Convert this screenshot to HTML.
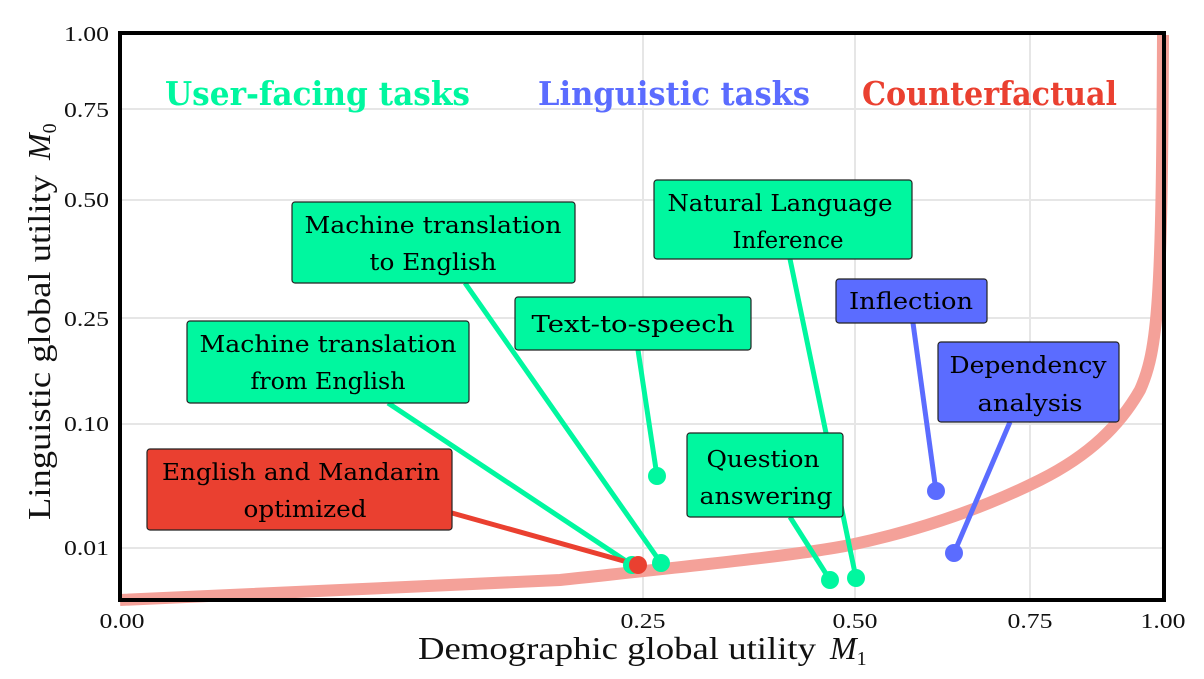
<!DOCTYPE html>
<html><head><meta charset="utf-8"><style>
html,body{margin:0;padding:0;background:#fff;width:1204px;height:679px;overflow:hidden}
svg{display:block}
.t{font-family:"DejaVu Serif","Liberation Serif",serif}
.tick{font-family:"Liberation Serif",serif;font-size:21px;fill:#111}
.lab{font-size:23px;fill:#000}
</style></head><body>
<svg width="1204" height="679" viewBox="0 0 1204 679" xmlns="http://www.w3.org/2000/svg">
<g stroke="#e6e6e6" stroke-width="2">
<line x1="122" y1="109" x2="1162" y2="109"/>
<line x1="122" y1="200" x2="1162" y2="200"/>
<line x1="122" y1="318" x2="1162" y2="318"/>
<line x1="122" y1="424" x2="1162" y2="424"/>
<line x1="122" y1="548" x2="1162" y2="548"/>
<line x1="643" y1="35" x2="643" y2="598"/>
<line x1="855" y1="35" x2="855" y2="598"/>
<line x1="1030" y1="35" x2="1030" y2="598"/>
</g>
<path d="M120,600 L560,580 C700,565 800,555 850,545 C930,528 990,505 1040,480 C1090,455 1120,425 1140,390 C1158,350 1162,300 1163,35" fill="none" stroke="#f4a199" stroke-width="12"/>
<g class="t">
<text x="165" y="105" font-size="33" font-weight="bold" fill="#00f79f" textLength="305" lengthAdjust="spacingAndGlyphs">User-facing tasks</text>
<text x="538" y="105" font-size="33" font-weight="bold" fill="#5b6cff" textLength="272" lengthAdjust="spacingAndGlyphs">Linguistic tasks</text>
<text x="862" y="105" font-size="33" font-weight="bold" fill="#ea4030" textLength="255" lengthAdjust="spacingAndGlyphs">Counterfactual</text>
</g>
<g stroke-width="5" fill="none">
<line x1="465" y1="283" x2="661" y2="563" stroke="#00f79f"/>
<line x1="638" y1="350" x2="657" y2="476" stroke="#00f79f"/>
<line x1="388" y1="403" x2="632" y2="565" stroke="#00f79f"/>
<line x1="790" y1="259" x2="856" y2="578" stroke="#00f79f"/>
<line x1="790" y1="517" x2="830" y2="580" stroke="#00f79f"/>
<line x1="913" y1="323" x2="936" y2="491" stroke="#5b6cff"/>
<line x1="1010" y1="422" x2="954" y2="553" stroke="#5b6cff"/>
<line x1="452" y1="513" x2="638" y2="565" stroke="#ea4030"/>
</g>
<g>
<circle cx="632" cy="565" r="9" fill="#00f79f"/>
<circle cx="661" cy="563" r="9" fill="#00f79f"/>
<circle cx="657" cy="476" r="9" fill="#00f79f"/>
<circle cx="830" cy="580" r="9" fill="#00f79f"/>
<circle cx="856" cy="578" r="9" fill="#00f79f"/>
<circle cx="936" cy="491" r="9" fill="#5b6cff"/>
<circle cx="954" cy="553" r="9" fill="#5b6cff"/>
<circle cx="638" cy="565" r="9" fill="#ea4030"/>
</g>
<g stroke="#222" stroke-width="1.2">
<rect x="292" y="202" width="283" height="81" rx="3" fill="#00f79f"/>
<rect x="515" y="297" width="236" height="53" rx="3" fill="#00f79f"/>
<rect x="187" y="321" width="282" height="82" rx="3" fill="#00f79f"/>
<rect x="654" y="180" width="258" height="79" rx="3" fill="#00f79f"/>
<rect x="687" y="433" width="156" height="84" rx="3" fill="#00f79f"/>
<rect x="836" y="279" width="151" height="44" rx="3" fill="#5b6cff"/>
<rect x="938" y="342" width="181" height="80" rx="3" fill="#5b6cff"/>
<rect x="147" y="449" width="305" height="81" rx="3" fill="#ea4030"/>
</g>
<g class="t lab" text-anchor="middle" lengthAdjust="spacingAndGlyphs">
<text x="433" y="233" textLength="257" lengthAdjust="spacingAndGlyphs">Machine translation</text>
<text x="433" y="270" textLength="127" lengthAdjust="spacingAndGlyphs">to English</text>
<text x="633" y="332" textLength="203" lengthAdjust="spacingAndGlyphs">Text-to-speech</text>
<text x="328" y="352" textLength="257" lengthAdjust="spacingAndGlyphs">Machine translation</text>
<text x="328" y="389" textLength="155" lengthAdjust="spacingAndGlyphs">from English</text>
<text x="780" y="211" textLength="225" lengthAdjust="spacingAndGlyphs">Natural Language</text>
<text x="788" y="248" textLength="111" lengthAdjust="spacingAndGlyphs">Inference</text>
<text x="763" y="467" textLength="113" lengthAdjust="spacingAndGlyphs">Question</text>
<text x="766" y="504" textLength="133" lengthAdjust="spacingAndGlyphs">answering</text>
<text x="911" y="309" textLength="124" lengthAdjust="spacingAndGlyphs">Inflection</text>
<text x="1028" y="373" textLength="157" lengthAdjust="spacingAndGlyphs">Dependency</text>
<text x="1030" y="411" textLength="105" lengthAdjust="spacingAndGlyphs">analysis</text>
<text x="301" y="480" textLength="278" lengthAdjust="spacingAndGlyphs">English and Mandarin</text>
<text x="305" y="517" textLength="123" lengthAdjust="spacingAndGlyphs">optimized</text>
</g>
<rect x="120" y="33" width="1044" height="567" fill="none" stroke="#000" stroke-width="4"/>
<g class="tick" text-anchor="end">
<text x="109" y="41" textLength="45" lengthAdjust="spacingAndGlyphs">1.00</text>
<text x="109" y="117" textLength="45" lengthAdjust="spacingAndGlyphs">0.75</text>
<text x="109" y="207" textLength="45" lengthAdjust="spacingAndGlyphs">0.50</text>
<text x="109" y="326" textLength="45" lengthAdjust="spacingAndGlyphs">0.25</text>
<text x="109" y="431" textLength="45" lengthAdjust="spacingAndGlyphs">0.10</text>
<text x="109" y="555" textLength="45" lengthAdjust="spacingAndGlyphs">0.01</text>
</g>
<g class="tick" text-anchor="middle">
<text x="122" y="628" textLength="45" lengthAdjust="spacingAndGlyphs">0.00</text>
<text x="643" y="628" textLength="45" lengthAdjust="spacingAndGlyphs">0.25</text>
<text x="855" y="628" textLength="45" lengthAdjust="spacingAndGlyphs">0.50</text>
<text x="1030" y="628" textLength="45" lengthAdjust="spacingAndGlyphs">0.75</text>
<text x="1163" y="628" textLength="45" lengthAdjust="spacingAndGlyphs">1.00</text>
</g>
<text x="418" y="659" font-family="Liberation Serif,serif" font-size="32" fill="#111" textLength="398" lengthAdjust="spacingAndGlyphs">Demographic global utility</text>
<text x="830" y="659" font-family="Liberation Serif,serif" font-size="32" font-style="italic" fill="#111">M<tspan font-size="20" font-style="normal" dy="6">1</tspan></text>
<g transform="translate(50,520) rotate(-90)">
<text x="0" y="0" font-family="Liberation Serif,serif" font-size="32" fill="#111" textLength="345" lengthAdjust="spacingAndGlyphs">Linguistic global utility</text>
<text x="360" y="0" font-family="Liberation Serif,serif" font-size="32" font-style="italic" fill="#111">M<tspan font-size="20" font-style="normal" dy="6">0</tspan></text>
</g>
</svg>
</body></html>
